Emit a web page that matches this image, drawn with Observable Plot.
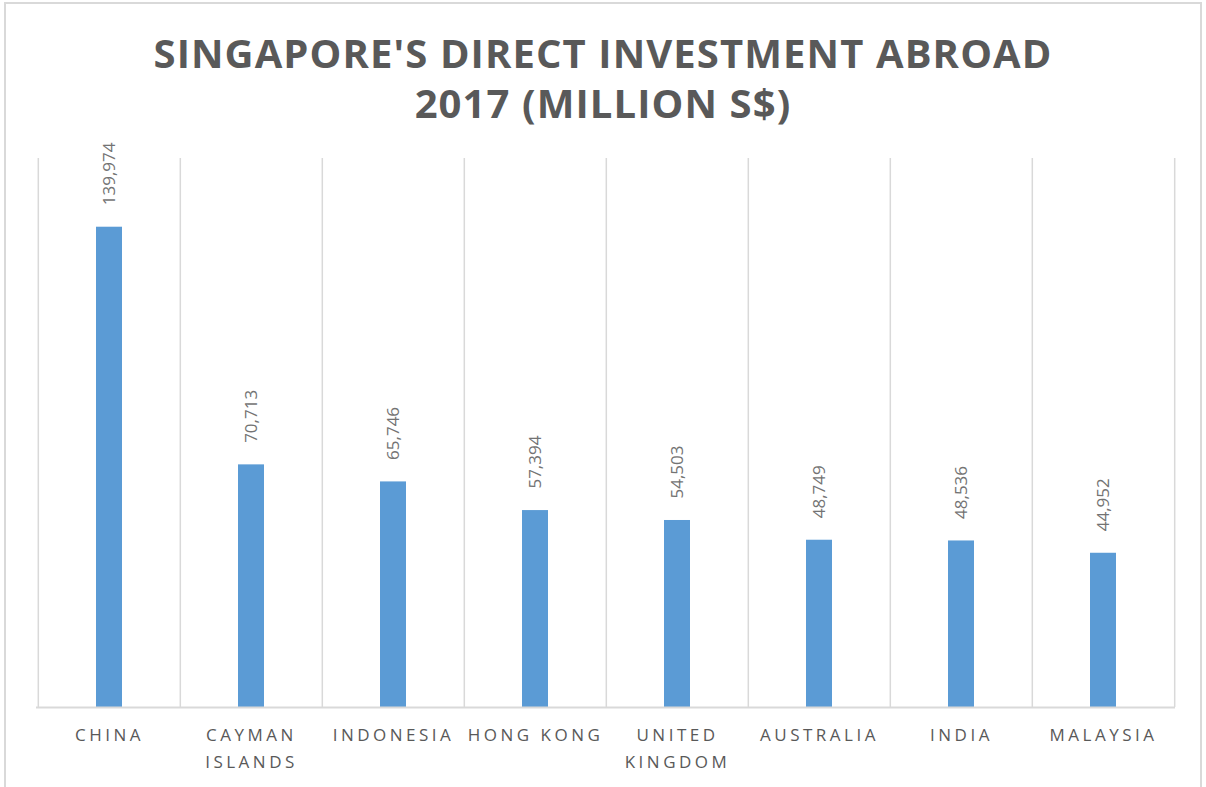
<!DOCTYPE html>
<html>
<head>
<meta charset="utf-8">
<script src="https://cdn.jsdelivr.net/npm/d3@7"></script>
<script src="https://cdn.jsdelivr.net/npm/@observablehq/plot@0.6"></script>
<style>
  html, body { margin: 0; padding: 0; background: #fff; }
  #wrap { position: relative; width: 1206px; height: 787px; overflow: hidden; font-family: "Open Sans", sans-serif; }
  #border { position: absolute; left: 4px; top: 2px; width: 1198px; height: 800px; border: 2px solid #d9d9d9; box-sizing: border-box; }
  #title { position: absolute; left: 0; top: 28px; width: 1206px; text-align: center; font-family: "Open Sans", sans-serif; font-weight: 700; font-size: 40px; line-height: 50px; letter-spacing: 1.1px; color: #595959; }
  #chart { position: absolute; left: 0; top: 0; }
  #chart g[aria-label="x-axis tick label"] text { letter-spacing: 3.5px; }
</style>
</head>
<body>
<div id="wrap">
  <div id="border"></div>
  <div id="chart"></div>
  <div id="title">SINGAPORE'S DIRECT INVESTMENT ABROAD<br>2017 (MILLION S$)</div>
</div>
<script>
const categories = ["China", "Cayman Islands", "Indonesia", "Hong Kong", "United Kingdom", "Australia", "India", "Malaysia"];
const values = [139974, 70713, 65746, 57394, 54503, 48749, 48536, 44952];
const tickLabels = ["CHINA", "CAYMAN\nISLANDS", "INDONESIA", "HONG KONG", "UNITED\nKINGDOM", "AUSTRALIA", "INDIA", "MALAYSIA"];

const data = categories.map((c, i) => ({category: c, value: values[i]}));
const labelOf = new Map(categories.map((c, i) => [c, tickLabels[i]]));

const W = 1206, H = 787;
const mL = 36, mR = 31, mT = 158, mB = 80;
const step = (W - mL - mR) / categories.length;
const grid = "#d9d9d9";

const chart = Plot.plot({
  width: W,
  height: H,
  marginLeft: mL,
  marginRight: mR,
  marginTop: mT,
  marginBottom: mB,
  style: {fontFamily: "Open Sans, sans-serif", background: "transparent"},
  x: {type: "band", domain: categories, padding: 0, axis: null},
  y: {domain: [0, 160000], axis: null},
  marks: [
    Plot.ruleX(categories, {x: d => d, y1: 0, y2: 160000, dx: -step / 2, stroke: grid, strokeWidth: 1.5}),
    Plot.ruleX(categories.slice(-1), {x: d => d, y1: 0, y2: 160000, dx: step / 2, stroke: grid, strokeWidth: 1.5}),
    Plot.barY(data, {x: "category", y: "value", fill: "#5b9bd5", insetLeft: 58, insetRight: 58}),
    Plot.ruleY([0], {stroke: grid, strokeWidth: 2}),
    Plot.text(data, {x: "category", y: "value", text: d => d3.format(",")(d.value), rotate: -90, textAnchor: "start", dy: -22, fill: "#737373", fontSize: 17}),
    Plot.axisX({tickSize: 0, tickPadding: 15, tickFormat: d => labelOf.get(d), fontSize: 17, lineHeight: 1.55, color: "#595959", textAnchor: "middle", label: null})
  ]
});
document.getElementById("chart").appendChild(chart);
</script>
</body>
</html>
